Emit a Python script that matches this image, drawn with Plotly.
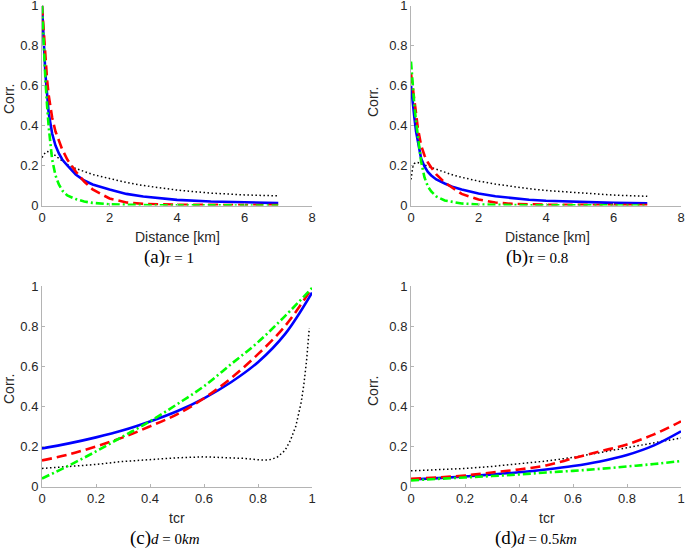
import plotly.graph_objects as go
from plotly.subplots import make_subplots

W, H = 685, 549
FONT = "Liberation Sans, Arial, sans-serif"
SERIF = "Liberation Serif, Times New Roman, serif"
TXT = "#262626"
AXC = "#b4b4b4"

# ── distance panels (a), (b) ──
dist = [0, 0.05, 0.1, 0.15, 0.2, 0.3, 0.4, 0.5, 0.6, 0.75, 1.0, 1.25, 1.5,
        2.0, 2.5, 3.0, 3.5, 4.0, 5.0, 6.0, 7.0]

a_blue = [1.0, 0.80, 0.66, 0.56, 0.46, 0.36, 0.30, 0.26, 0.23, 0.20, 0.155,
          0.125, 0.105, 0.08, 0.058, 0.045, 0.035, 0.028, 0.02, 0.015, 0.012]
a_red = [1.0, 0.86, 0.73, 0.63, 0.55, 0.44, 0.37, 0.32, 0.28, 0.23, 0.17,
         0.12, 0.08, 0.035, 0.015, 0.008, 0.005, 0.004, 0.003, 0.002, 0.002]
a_green = [1.0, 0.80, 0.63, 0.50, 0.39, 0.23, 0.15, 0.105, 0.075, 0.05, 0.032,
           0.02, 0.013, 0.006, 0.003, 0.002, 0.001, 0.001, 0.0, 0.0, 0.0]
a_dot = [0.24, 0.255, 0.265, 0.27, 0.268, 0.26, 0.25, 0.235, 0.223, 0.205, 0.185,
         0.168, 0.155, 0.135, 0.115, 0.10, 0.087, 0.077, 0.062, 0.053, 0.048]

b_blue = [0.60, 0.50, 0.44, 0.37, 0.32, 0.235, 0.195, 0.168, 0.15, 0.13, 0.11,
          0.092, 0.08, 0.06, 0.046, 0.036, 0.029, 0.024, 0.017, 0.013, 0.011]
b_red = [0.66, 0.60, 0.54, 0.46, 0.39, 0.30, 0.25, 0.215, 0.19, 0.155, 0.115,
         0.085, 0.058, 0.03, 0.015, 0.008, 0.005, 0.004, 0.003, 0.002, 0.002]
b_green = [0.72, 0.60, 0.50, 0.42, 0.36, 0.22, 0.14, 0.095, 0.07, 0.045, 0.025,
           0.016, 0.01, 0.005, 0.003, 0.002, 0.001, 0.001, 0.0, 0.0, 0.0]
b_dot = [0.13, 0.19, 0.21, 0.215, 0.215, 0.21, 0.203, 0.196, 0.19, 0.18, 0.165,
         0.152, 0.141, 0.122, 0.107, 0.094, 0.084, 0.075, 0.062, 0.052, 0.046]

# ── tcr panels (c), (d) ──
tcr = [0, 0.1, 0.2, 0.3, 0.4, 0.5, 0.6, 0.7, 0.8, 0.9, 1.0]

c_blue = [0.19, 0.215, 0.245, 0.28, 0.324, 0.375, 0.44, 0.52, 0.62, 0.76, 0.967]
c_red = [0.13, 0.16, 0.20, 0.245, 0.30, 0.36, 0.44, 0.54, 0.66, 0.80, 0.99]
c_green = [0.04, 0.105, 0.175, 0.25, 0.325, 0.41, 0.50, 0.61, 0.72, 0.85, 0.99]
tcr_dot = [0, 0.1, 0.2, 0.3, 0.4, 0.5, 0.6, 0.7, 0.75, 0.8, 0.84, 0.87, 0.9,
           0.92, 0.94, 0.96, 0.97, 0.98, 0.99]
c_dot = [0.09, 0.10, 0.11, 0.125, 0.135, 0.143, 0.148, 0.145, 0.14, 0.133, 0.132,
         0.145, 0.18, 0.23, 0.30, 0.42, 0.51, 0.63, 0.79]

d_blue = [0.035, 0.042, 0.05, 0.06, 0.071, 0.085, 0.102, 0.125, 0.157, 0.205, 0.275]
d_red = [0.038, 0.045, 0.055, 0.07, 0.085, 0.105, 0.14, 0.175, 0.21, 0.26, 0.325]
d_green = [0.03, 0.038, 0.045, 0.052, 0.06, 0.07, 0.078, 0.088, 0.10, 0.112, 0.127]
d_dot = [0.078, 0.083, 0.09, 0.10, 0.113, 0.127, 0.145, 0.17, 0.195, 0.218, 0.242]

dist_ticks = [0, 2, 4, 6, 8]
unit_ticks = [0, 0.2, 0.4, 0.6, 0.8, 1]
unit_labels = ["0", "0.2", "0.4", "0.6", "0.8", "1"]

fig = make_subplots(rows=2, cols=2)

def add(x, ys, row, col, smooth=False, xdot=None):
    blue, red, green, dot = ys
    shape = "spline" if smooth else "linear"
    fig.add_trace(go.Scatter(x=xdot if xdot else x, y=dot, mode="lines",
                             line=dict(color="black", width=1.5, dash="1.5px,2.5px")),
                  row=row, col=col)
    fig.add_trace(go.Scatter(x=x, y=blue, mode="lines",
                             line=dict(color="#0000ff", width=2.6, shape=shape)),
                  row=row, col=col)
    fig.add_trace(go.Scatter(x=x, y=red, mode="lines",
                             line=dict(color="#ff0000", width=2.6, dash="10px,5px", shape=shape)),
                  row=row, col=col)
    fig.add_trace(go.Scatter(x=x, y=green, mode="lines",
                             line=dict(color="#00ff00", width=2.6, dash="8px,3px,2px,3px", shape=shape)),
                  row=row, col=col)

add(dist, (a_blue, a_red, a_green, a_dot), 1, 1)
add(dist, (b_blue, b_red, b_green, b_dot), 1, 2)
add(tcr, (c_blue, c_red, c_green, c_dot), 2, 1, smooth=True, xdot=tcr_dot)
add(tcr, (d_blue, d_red, d_green, d_dot), 2, 2, smooth=True)

def px_x(p):
    return p / W

def px_y(p):
    return 1 - p / H

left = [px_x(42), px_x(312)]
right = [px_x(411), px_x(681)]
top = [px_y(205.5), px_y(5.5)]
bottom = [px_y(486.5), px_y(286)]

ax = dict(showgrid=False, zeroline=False, showline=True, linecolor=AXC, linewidth=1,
          ticks="inside", ticklen=3, tickcolor=AXC, mirror=False, automargin=False,
          ticklabeloverflow="allow",
          tickfont=dict(family=FONT, size=13, color=TXT))
xd = dict(ax, range=[0, 8], tickvals=dist_ticks)
xu = dict(ax, range=[0, 1], tickvals=unit_ticks, ticktext=unit_labels)
yu = dict(ax, range=[0, 1], tickvals=unit_ticks, ticktext=unit_labels)

fig.update_layout(
    xaxis=dict(xd, domain=left), yaxis=dict(yu, domain=top),
    xaxis2=dict(xd, domain=right), yaxis2=dict(yu, domain=top),
    xaxis3=dict(xu, domain=left), yaxis3=dict(yu, domain=bottom),
    xaxis4=dict(xu, domain=right), yaxis4=dict(yu, domain=bottom),
    width=W, height=H, showlegend=False,
    margin=dict(l=0, r=0, t=0, b=0),
    plot_bgcolor="white", paper_bgcolor="white")

def label(text, x, y, angle=0, size=14, family=FONT, color=TXT):
    fig.add_annotation(text=text, x=px_x(x), y=px_y(y), xref="paper", yref="paper",
                       showarrow=False, textangle=angle, xanchor="center", yanchor="middle",
                       font=dict(family=family, size=size, color=color))

# axis titles
label("Corr.", 9, 99, angle=-90)
label("Corr.", 373, 102, angle=-90)
label("Corr.", 9, 389, angle=-90)
label("Corr.", 373, 391, angle=-90)
label("Distance [km]", 177, 237)
label("Distance [km]", 547, 237)
label("tcr", 177, 518)
label("tcr", 547, 518)

# captions
def cap(letter, rest):
    return f"({letter})<span style='font-size:15px'>{rest}</span>"

label(cap("a", "<i>τ</i> = 1"), 168.5, 257, size=19, family=SERIF, color="black")
label(cap("b", "<i>τ</i> = 0.8"), 537, 257, size=19, family=SERIF, color="black")
label(cap("c", "<i>d</i> = 0<i>km</i>"), 164.5, 538, size=19, family=SERIF, color="black")
label(cap("d", "<i>d</i> = 0.5<i>km</i>"), 535.7, 538, size=19, family=SERIF, color="black")

fig.write_html("out.html", config={"displayModeBar": False},
               post_script="document.body.style.margin='0';document.body.style.overflow='hidden';")
